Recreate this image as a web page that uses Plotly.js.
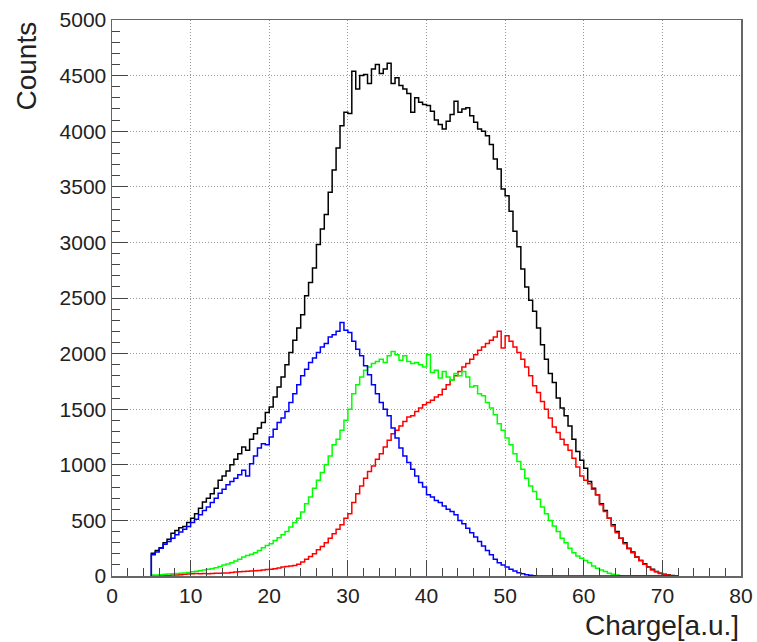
<!DOCTYPE html>
<html>
<head>
<meta charset="utf-8">
<script src="https://cdn.plot.ly/plotly-3.0.1.min.js"></script>
<style>html,body{margin:0;padding:0;background:#fff;}#chart{width:757px;height:642px;}</style>
</head>
<body>
<div id="chart"></div>
<script>
// Histogram binning (Charge axis, a.u.)
const binStart = 5.0;
const binWidth = 0.5;

// Total (black)
const totalCounts = [205,230,255,300,330,385,410,435,445,480,520,560,610,665,700,740,790,860,900,945,
1000,1050,1100,1160,1130,1230,1280,1330,1380,1470,1520,1610,1700,1790,1900,2010,2120,2230,2350,2520,
2640,2770,2980,3120,3250,3450,3650,3850,4050,4170,4160,4540,4380,4500,4510,4430,4560,4600,4520,4560,
4610,4430,4480,4410,4380,4340,4170,4300,4260,4240,4230,4180,4100,4060,4020,4090,4150,4270,4170,4200,
4210,4140,4080,4020,4000,3960,3880,3750,3660,3480,3420,3280,3100,2960,2760,2600,2480,2380,2230,2080,
1950,1820,1740,1600,1510,1440,1350,1230,1120,1040,970,850,790,730,650,590,520,460,400,340,
300,250,215,170,140,110,80,60,40,25,15,8,4,2];

// Blue component
const blueCounts = [190,215,250,285,310,340,370,395,420,445,480,510,550,590,620,660,700,745,780,820,
850,880,910,950,900,1010,1080,1150,1190,1180,1250,1320,1380,1420,1480,1560,1640,1720,1800,1860,
1920,1960,2010,2060,2090,2150,2170,2200,2280,2210,2190,2110,2040,1980,1890,1810,1720,1640,1560,1500,
1440,1330,1240,1150,1080,1020,960,900,840,800,730,710,680,660,630,600,580,550,500,470,
430,390,350,310,270,230,190,150,120,100,80,60,45,30,20,12,6,3,1,0,
0,0,0,0,0,0,0,0,0,0,0,0,0,0,0,0,0,0,0,0,
0,0,0,0,0,0,0,0,0,0,0,0,0,0];

// Green component
const greenCounts = [8,10,12,15,18,20,22,25,28,32,38,42,48,55,60,66,75,85,98,108,
120,135,150,170,185,195,210,230,255,275,290,320,345,370,400,440,480,520,575,650,
710,790,860,930,1000,1080,1180,1230,1310,1400,1500,1640,1720,1790,1850,1880,1910,1930,1950,1920,
1980,2020,1990,1940,1980,1930,1910,1920,1900,1880,1990,1830,1850,1780,1840,1790,1760,1820,1800,1840,
1790,1700,1710,1640,1620,1560,1510,1450,1370,1310,1240,1180,1100,1030,960,880,810,760,690,620,
560,500,450,400,340,300,250,210,180,160,140,120,90,70,55,40,25,15,8,3,
0,0,0,0,0,0,0,0,0,0,0,0,0,0];

// Red component
const redCounts = [0,0,2,3,5,8,10,12,15,18,20,22,20,22,20,22,25,25,28,28,
32,35,38,40,42,45,48,50,55,58,60,65,72,80,85,90,95,105,125,150,
175,200,235,265,300,340,380,420,460,520,560,660,740,810,880,940,990,1050,1100,1160,
1220,1280,1310,1350,1390,1430,1440,1480,1510,1540,1560,1580,1610,1630,1680,1720,1760,1800,1840,1880,
1910,1950,1990,2030,2060,2090,2120,2150,2200,2050,2160,2110,2060,2010,1950,1880,1800,1710,1650,1570,
1500,1420,1340,1290,1230,1180,1130,1060,980,900,860,830,780,730,640,580,520,450,390,340,
290,245,210,170,140,105,78,55,38,22,12,6,2,0];

function stepTrace(counts, color) {
  const xs = [binStart], ys = [0];
  for (let i = 0; i < counts.length; i++) {
    xs.push(binStart + i * binWidth);
    ys.push(counts[i]);
  }
  xs.push(binStart + counts.length * binWidth);
  ys.push(counts[counts.length - 1]);
  return {x: xs, y: ys, type: 'scatter', mode: 'lines',
          line: {shape: 'hv', color: color, width: 1.5},
          hoverinfo: 'skip', showlegend: false};
}

const traces = [
  stepTrace(totalCounts, '#000000'),
  stepTrace(redCounts, '#ff0000'),
  stepTrace(greenCounts, '#00ff00'),
  stepTrace(blueCounts, '#0000ff')
];

const fontFam = '"Liberation Sans", Arial, Helvetica, sans-serif';

const layout = {
  width: 757, height: 642,
  margin: {l: 112, r: 16, t: 20, b: 66},
  paper_bgcolor: '#ffffff', plot_bgcolor: '#ffffff',
  font: {family: fontFam, color: '#222', size: 21},
  showlegend: false,
  xaxis: {
    range: [0, 80], dtick: 10, tick0: 0,
    ticks: 'inside', ticklen: 16, tickwidth: 1, tickcolor: '#444',
    minor: {dtick: 2, ticks: 'inside', ticklen: 8, tickcolor: '#444', showgrid: false},
    showgrid: true, gridcolor: '#999999', griddash: '1px,2px', gridwidth: 1,
    showline: true, linecolor: '#666', linewidth: 1.5, mirror: true,
    zeroline: false, tickfont: {size: 21}
  },
  yaxis: {
    range: [0, 5000], dtick: 500, tick0: 0,
    ticks: 'inside', ticklen: 16, tickwidth: 1, tickcolor: '#444',
    minor: {dtick: 100, ticks: 'inside', ticklen: 8, tickcolor: '#444', showgrid: false},
    showgrid: true, gridcolor: '#999999', griddash: '1px,2px', gridwidth: 1,
    showline: true, linecolor: '#666', linewidth: 1.5, mirror: true,
    zeroline: false, tickfont: {size: 21}
  },
  annotations: [
    {text: 'Charge[a.u.]', xref: 'paper', yref: 'paper', x: 1, y: 0,
     xanchor: 'right', yanchor: 'top', yshift: -32, showarrow: false,
     font: {size: 28, family: fontFam, color: '#222'}},
    {text: 'Counts', xref: 'paper', yref: 'paper', x: 0, y: 1,
     xanchor: 'center', yanchor: 'top', xshift: -86, showarrow: false, textangle: -90,
     font: {size: 28, family: fontFam, color: '#222'}}
  ]
};

Plotly.newPlot('chart', traces, layout, {staticPlot: true, displayModeBar: false});
</script>
</body>
</html>
